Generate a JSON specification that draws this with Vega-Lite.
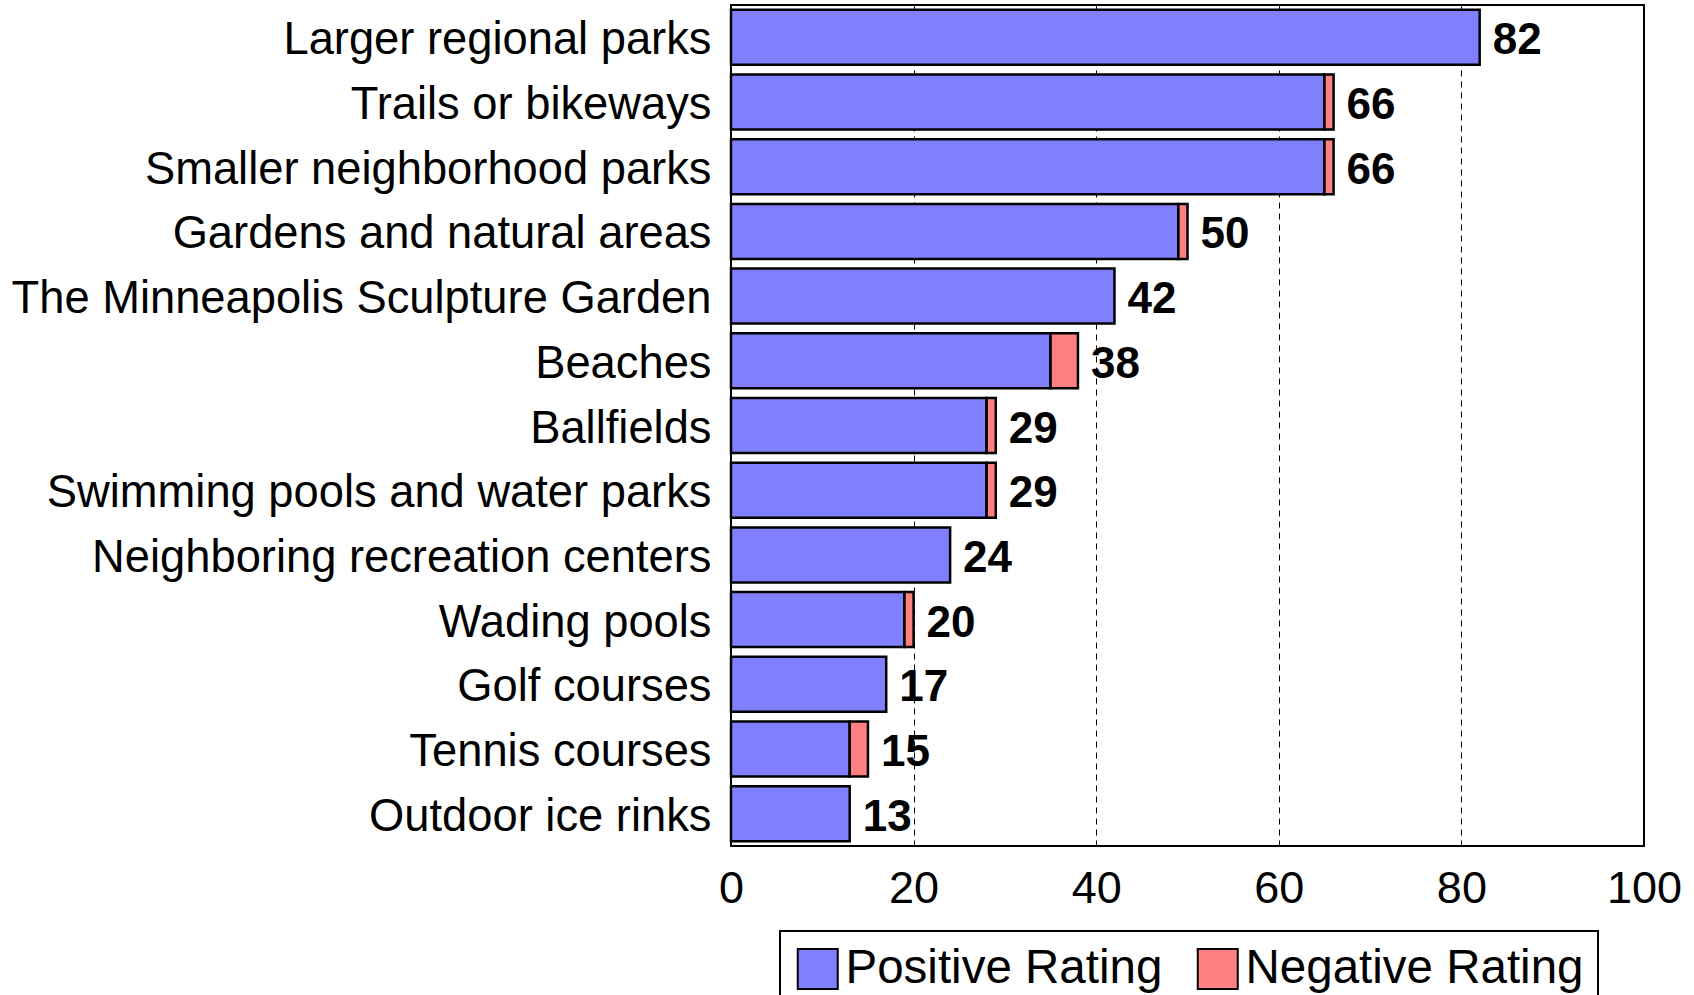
{
  "$schema": "https://vega.github.io/schema/vega-lite/v6.json",
  "autosize": {"type": "none"},
  "width": 913,
  "height": 841,
  "padding": {"left": 731, "top": 5, "right": 50, "bottom": 149},
  "background": "white",
  "config": {
    "font": "Liberation Sans",
    "view": {"stroke": "black", "strokeWidth": 2},
    "axis": {"labelFont": "Liberation Sans", "labelColor": "black", "domain": false, "ticks": false}
  },
  "data": {
    "values": [
      {"item": "Larger regional parks", "type": "Positive Rating", "ord": 1, "value": 82, "total": 82},
      {"item": "Larger regional parks", "type": "Negative Rating", "ord": 2, "value": 0, "total": 82},
      {"item": "Trails or bikeways", "type": "Positive Rating", "ord": 1, "value": 65, "total": 66},
      {"item": "Trails or bikeways", "type": "Negative Rating", "ord": 2, "value": 1, "total": 66},
      {"item": "Smaller neighborhood parks", "type": "Positive Rating", "ord": 1, "value": 65, "total": 66},
      {"item": "Smaller neighborhood parks", "type": "Negative Rating", "ord": 2, "value": 1, "total": 66},
      {"item": "Gardens and natural areas", "type": "Positive Rating", "ord": 1, "value": 49, "total": 50},
      {"item": "Gardens and natural areas", "type": "Negative Rating", "ord": 2, "value": 1, "total": 50},
      {"item": "The Minneapolis Sculpture Garden", "type": "Positive Rating", "ord": 1, "value": 42, "total": 42},
      {"item": "The Minneapolis Sculpture Garden", "type": "Negative Rating", "ord": 2, "value": 0, "total": 42},
      {"item": "Beaches", "type": "Positive Rating", "ord": 1, "value": 35, "total": 38},
      {"item": "Beaches", "type": "Negative Rating", "ord": 2, "value": 3, "total": 38},
      {"item": "Ballfields", "type": "Positive Rating", "ord": 1, "value": 28, "total": 29},
      {"item": "Ballfields", "type": "Negative Rating", "ord": 2, "value": 1, "total": 29},
      {"item": "Swimming pools and water parks", "type": "Positive Rating", "ord": 1, "value": 28, "total": 29},
      {"item": "Swimming pools and water parks", "type": "Negative Rating", "ord": 2, "value": 1, "total": 29},
      {"item": "Neighboring recreation centers", "type": "Positive Rating", "ord": 1, "value": 24, "total": 24},
      {"item": "Neighboring recreation centers", "type": "Negative Rating", "ord": 2, "value": 0, "total": 24},
      {"item": "Wading pools", "type": "Positive Rating", "ord": 1, "value": 19, "total": 20},
      {"item": "Wading pools", "type": "Negative Rating", "ord": 2, "value": 1, "total": 20},
      {"item": "Golf courses", "type": "Positive Rating", "ord": 1, "value": 17, "total": 17},
      {"item": "Golf courses", "type": "Negative Rating", "ord": 2, "value": 0, "total": 17},
      {"item": "Tennis courses", "type": "Positive Rating", "ord": 1, "value": 13, "total": 15},
      {"item": "Tennis courses", "type": "Negative Rating", "ord": 2, "value": 2, "total": 15},
      {"item": "Outdoor ice rinks", "type": "Positive Rating", "ord": 1, "value": 13, "total": 13},
      {"item": "Outdoor ice rinks", "type": "Negative Rating", "ord": 2, "value": 0, "total": 13}
    ]
  },
  "encoding": {
    "y": {
      "field": "item",
      "type": "nominal",
      "title": null,
      "sort": ["Larger regional parks", "Trails or bikeways", "Smaller neighborhood parks", "Gardens and natural areas", "The Minneapolis Sculpture Garden", "Beaches", "Ballfields", "Swimming pools and water parks", "Neighboring recreation centers", "Wading pools", "Golf courses", "Tennis courses", "Outdoor ice rinks"],
      "scale": {"paddingInner": 0.15, "paddingOuter": 0.075},
      "axis": {"labelFontSize": 45.3, "labelPadding": 20, "labelLimit": 0, "labelOffset": 3}
    }
  },
  "layer": [
    {
      "transform": [{"filter": "datum.value > 0"}],
      "mark": {"type": "bar", "stroke": "black", "strokeWidth": 2.5},
      "encoding": {
        "x": {
          "field": "value",
          "type": "quantitative",
          "stack": "zero",
          "title": null,
          "scale": {"domain": [0, 100], "nice": false},
          "axis": {
            "values": [0, 20, 40, 60, 80, 100],
            "labelFontSize": 45,
            "labelPadding": 20,
            "grid": true,
            "gridColor": "black",
            "gridDash": [6, 5],
            "gridWidth": 1,
            "gridOpacity": 1,
            "labelFlush": false
          }
        },
        "order": {"field": "ord", "type": "quantitative"},
        "color": {
          "field": "type",
          "type": "nominal",
          "scale": {"domain": ["Positive Rating", "Negative Rating"], "range": ["#8080FF", "#FF8080"]},
          "legend": {
            "title": null,
            "orient": "none",
            "legendX": 49,
            "legendY": 926,
            "direction": "horizontal",
            "strokeColor": "black",
            "padding": 14,
            "symbolType": "square",
            "symbolSize": 1600,
            "symbolStrokeColor": "black",
            "symbolStrokeWidth": 2,
            "labelFontSize": 47.5,
            "labelColor": "black",
            "labelOffset": 4,
            "columnPadding": 30,
            "labelLimit": 0,
            "encode": {"legend": {"update": {"strokeWidth": {"value": 2}}}}
          }
        }
      }
    },
    {
      "transform": [{"filter": "datum.ord == 1"}],
      "mark": {"type": "text", "align": "left", "baseline": "middle", "dx": 13, "dy": 4, "fontSize": 44, "fontWeight": "bold", "color": "black"},
      "encoding": {
        "x": {"field": "total", "type": "quantitative"},
        "text": {"field": "total", "type": "quantitative"}
      }
    }
  ]
}
